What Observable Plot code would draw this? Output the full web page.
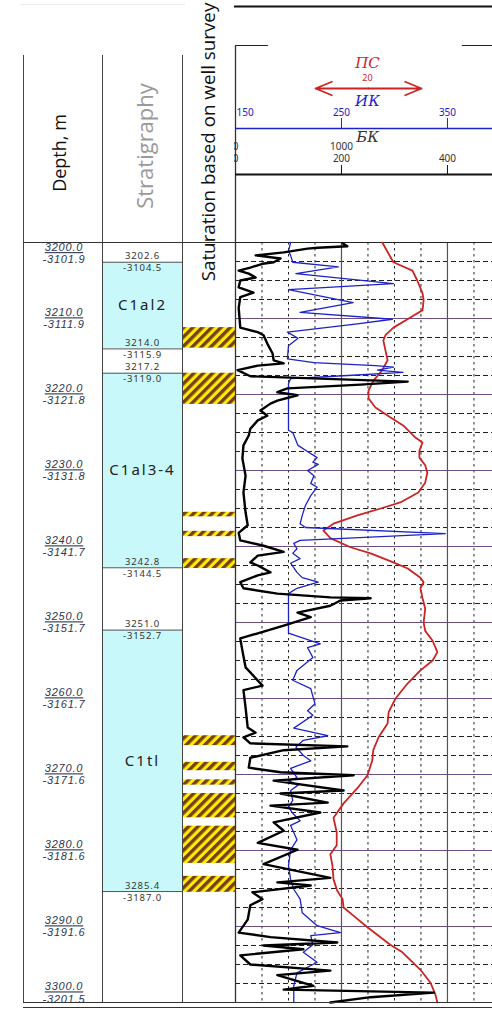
<!DOCTYPE html>
<html><head><meta charset="utf-8">
<script src="https://cdn.jsdelivr.net/npm/d3@7"></script>
<script src="https://cdn.jsdelivr.net/npm/@observablehq/plot@0.6"></script>
<style>
body{margin:0;background:#fff;}
#c{position:relative;width:492px;height:1009px;overflow:hidden;background:#fff;font-family:"Liberation Sans",Arial,sans-serif;}
.vl{position:absolute;width:1px;background:#444;}
.hl{position:absolute;height:1px;background:#333;}
.rot{position:absolute;transform:translate(-50%,-50%) rotate(-90deg);white-space:nowrap;font-family:"Open Sans",sans-serif;line-height:1;}
</style></head><body><div id="c"></div><script>
// ---------- data ----------
const depthTicks = [3200,3210,3220,3230,3240,3250,3260,3270,3280,3290,3300];
const absDepths = ["-3101.9","-3111.9","-3121.8","-3131.8","-3141.7","-3151.7","-3161.7","-3171.6","-3181.6","-3191.6","-3201.5"];

const stratNames = ["C1al2","C1al3-4","C1tl"];
const stratTop = [3202.6,3217.2,3251.0];
const stratBottom = [3214.0,3242.8,3285.4];
const boundaryMD = [3202.6,3214.0,3217.2,3242.8,3251.0,3285.4];
const boundaryAbs = ["-3104.5","-3115.9","-3119.0","-3144.5","-3152.7","-3187.0"];

const satTop = [3211.2,3217.2,3235.5,3238.0,3241.6,3264.9,3268.4,3270.7,3272.5,3276.8,3283.4];
const satBottom = [3213.9,3221.3,3236.1,3238.7,3242.9,3266.2,3269.5,3271.4,3275.7,3281.7,3285.5];

const ikTicks = [150,250,350];
const bkTicksTop = ["0","1000"];
const bkTicksBottom = [0,200,400];

const redDepth = [3200.0,3202.6,3203.7,3205.0,3206.7,3207.6,3208.9,3209.7,3211.2,3212.2,3212.9,3214.2,3215.5,3216.8,3218.2,3219.5,3220.5,3221.7,3223.0,3224.1,3225.7,3226.3,3227.4,3228.3,3229.3,3230.3,3231.6,3232.9,3234.2,3235.0,3235.9,3237.0,3237.9,3238.9,3240.1,3240.9,3242.1,3242.9,3244.1,3244.7,3245.5,3246.8,3248.2,3250.0,3251.1,3252.4,3253.9,3255.0,3256.3,3258.0,3260.0,3261.8,3263.3,3265.1,3266.8,3268.2,3270.1,3271.8,3273.8,3275.7,3277.6,3279.3,3280.5,3282.0,3283.8,3285.3,3286.4,3287.5,3288.6,3290.1,3292.4,3293.4,3295.7,3297.4,3298.9,3300.0];
const redPS = [27.7,29.8,33.4,34.3,35.3,35.5,35.3,33.4,29.8,28.3,27.9,28.3,28.7,27.7,26.0,25.1,25.1,26.4,29.2,31.7,34.0,35.3,34.7,34.7,35.8,36.2,35.8,34.5,31.1,27.4,23.0,18.5,16.6,17.9,21.7,25.5,29.8,32.5,34.9,35.5,34.9,35.3,35.8,35.5,35.8,37.2,38.1,37.2,34.9,32.5,30.2,28.9,28.7,27.0,26.0,25.8,24.9,23.0,20.4,18.5,19.1,19.1,17.9,18.3,18.5,19.2,20.2,20.4,22.3,24.9,29.2,31.5,34.9,36.8,37.7,38.1];

const blueDepth = [3200.0,3201.1,3201.7,3202.6,3203.2,3204.1,3205.4,3206.2,3207.9,3209.2,3210.1,3210.7,3211.8,3212.6,3213.6,3215.3,3215.8,3216.2,3216.4,3216.8,3217.1,3217.5,3217.9,3218.6,3224.7,3225.0,3226.7,3227.6,3228.3,3228.9,3229.2,3230.0,3230.7,3231.7,3232.2,3233.3,3234.6,3235.9,3237.0,3237.5,3238.3,3239.2,3239.6,3240.3,3240.9,3241.6,3242.2,3243.4,3244.1,3244.7,3245.5,3246.2,3251.4,3252.8,3253.3,3254.6,3256.3,3257.6,3258.7,3260.7,3261.6,3262.2,3263.9,3264.9,3265.5,3266.4,3267.5,3268.2,3269.2,3270.4,3270.8,3271.4,3272.1,3273.4,3274.3,3275.1,3276.1,3276.7,3278.6,3279.9,3282.0,3283.8,3285.1,3286.4,3288.2,3289.9,3290.8,3291.2,3292.4,3293.4,3294.7,3296.1,3297.8,3300.0];
const blueIK = [202,200,202,204,247,207,299,200,261,211,298,265,199,209,200,199,224,282,299,284,308,256,202,200,200,204,209,219,227,223,228,218,224,221,227,221,216,213,211,216,348,211,205,208,204,211,202,208,213,228,208,200,200,230,218,223,208,204,221,225,218,223,205,237,214,207,214,221,202,208,200,209,202,204,200,204,211,202,208,202,200,202,205,211,213,227,249,221,223,214,227,208,205,205];

const blackDepth = [3200.1,3200.5,3200.7,3200.8,3201.3,3201.7,3202.1,3202.6,3202.8,3203.3,3203.7,3204.1,3204.6,3205.0,3205.9,3206.6,3207.2,3208.6,3211.2,3211.8,3212.2,3213.3,3214.6,3215.5,3215.9,3216.2,3216.8,3217.6,3218.3,3218.7,3219.2,3219.7,3220.1,3220.8,3221.2,3222.1,3222.8,3223.4,3224.5,3225.4,3226.7,3228.4,3230.7,3232.9,3235.5,3237.2,3238.2,3239.2,3239.9,3240.7,3241.2,3242.1,3242.5,3243.4,3243.8,3244.7,3245.5,3246.2,3246.7,3246.8,3247.1,3247.8,3248.7,3249.3,3250.4,3252.1,3253.7,3255.9,3258.3,3258.9,3261.2,3263.8,3264.5,3265.1,3265.9,3266.3,3266.8,3267.8,3269.1,3269.7,3270.1,3270.8,3272.1,3272.5,3273.7,3274.1,3275.0,3276.3,3277.4,3279.0,3279.9,3281.8,3283.6,3284.2,3284.6,3285.5,3286.4,3287.2,3289.1,3290.8,3291.4,3292.1,3292.5,3293.0,3293.8,3295.0,3295.8,3296.4,3297.8,3298.3,3298.7,3299.3,3300.0];
const blackBK = [202,211,155,136,91,38,85,72,51,28,6,25,38,9,6,34,9,6,9,42,53,60,70,72,91,42,4,28,325,236,98,79,117,79,66,47,60,42,28,25,15,13,19,15,19,23,6,9,53,91,42,28,42,66,42,9,15,79,179,255,198,179,117,142,91,9,13,19,51,15,19,23,38,15,28,211,91,28,25,85,223,72,204,85,174,66,160,72,91,42,117,53,179,79,142,32,51,28,23,6,66,192,53,128,9,28,179,79,147,91,374,255,179];

// ---------- helpers ----------
const c = document.getElementById("c");
const bkToIk = v => 150 + v * 0.5;   // БК 0..400 shares the ИК 150..350 grid
const psToIk = v => 150 + v * 5;     // ПС: 20 mV per 100 ИК units
const Y = {domain: [3200, 3300], range: [242, 1002], axis: null};
const H = 1009;
function place(el, left, top) { el.style.position = "absolute"; el.style.left = left + "px"; el.style.top = top + "px"; c.appendChild(el); return el; }
function div(cls, css) { const d = document.createElement("div"); d.className = cls; Object.assign(d.style, css); c.appendChild(d); return d; }
function label(txt, x, y, css) { const d = div("rot", css); d.textContent = txt; d.style.left = x + "px"; d.style.top = y + "px"; return d; }
const baseStyle = {background: "transparent", overflow: "visible"};

// ---------- depth track ----------
const depthRows = depthTicks.map((d, i) => ({md: d, abs: absDepths[i]}));
const depthText = d => d.md.toFixed(1) + "\n" + d.abs;
const depthOpts = {y: "md", text: depthText, frameAnchor: "middle", dx: 1, fontSize: 11, fontStyle: "italic", fill: "#2e3552", lineHeight: 1.1, fontFamily: "Liberation Sans, Arial, sans-serif"};
const depthPlot = Plot.plot({
  width: 79, height: H, margin: 0, style: baseStyle,
  x: {domain: [0, 1], range: [0, 79], axis: null}, y: Y,
  marks: [
    Plot.text(depthRows.slice(0, 1), {...depthOpts, lineAnchor: "top"}),
    Plot.text(depthRows.slice(1, -1), {...depthOpts, lineAnchor: "middle"}),
    Plot.text(depthRows.slice(-1), {...depthOpts, lineAnchor: "bottom"})
  ]
});
depthPlot.querySelectorAll("text").forEach(t => {
  t.style.letterSpacing = "0.8px";
  const ts = t.querySelector("tspan");
  if (ts) { ts.setAttribute("text-decoration", "underline"); ts.style.textDecoration = "underline"; }
});
place(depthPlot, 23, 0);

// ---------- stratigraphy ----------
const strat = stratNames.map((n, i) => ({name: n, top: stratTop[i], bottom: stratBottom[i]}));
const bounds = boundaryMD.map((d, i) => ({md: d, abs: boundaryAbs[i]}));
const stratPlot = Plot.plot({
  width: 80, height: H, margin: 0, style: baseStyle,
  x: {domain: [0, 1], range: [0, 80], axis: null}, y: Y,
  marks: [
    Plot.rect(strat, {x1: 0, x2: 1, y1: "top", y2: "bottom", fill: "#c8f8fa"}),
    Plot.ruleY(bounds, {y: "md", stroke: "#555", strokeWidth: 1}),
    Plot.text(bounds, {y: "md", text: d => d.md.toFixed(1), dy: -6, frameAnchor: "middle", fontSize: 9.5, fill: "#333"}),
    Plot.text(bounds, {y: "md", text: "abs", dy: 6, frameAnchor: "middle", fontSize: 9.5, fill: "#333"}),
    Plot.text(strat, {y: d => (d.top + d.bottom) / 2, text: "name", frameAnchor: "middle", fontSize: 15, fill: "#222"})
  ]
});
stratPlot.querySelectorAll("text").forEach(t => { t.style.letterSpacing = /^C1/.test(t.textContent) ? "2px" : "0.9px"; });
place(stratPlot, 102, 0);

// ---------- saturation ----------
const sat = satTop.map((t, i) => ({top: t, bottom: satBottom[i]}));
const satPlot = Plot.plot({
  width: 53, height: H, margin: 0, style: baseStyle,
  x: {domain: [0, 1], range: [0, 53], axis: null}, y: Y,
  marks: [Plot.rect(sat, {x1: 0, x2: 1, y1: "top", y2: "bottom", fill: "url(#hatch)"})]
});
d3.select(satPlot).insert("defs", ":first-child").html(
  '<pattern id="hatch" patternUnits="userSpaceOnUse" width="6.6" height="6.6" patternTransform="rotate(45)">' +
  '<rect width="6.6" height="6.6" fill="#ffef00"/><rect width="3.4" height="6.6" fill="#7a3d12"/></pattern>');
place(satPlot, 182, 0);

// ---------- curves header ----------
const X = {domain: [150, 392.5], range: [1, 258], axis: null};
const blue = "#1c22c8", red = "#cc2424";
const hdr = Plot.plot({
  width: 258, height: 242, margin: 0, style: {background: "transparent", overflow: "hidden"},
  x: X, y: {domain: [0, 242], range: [0, 242], axis: null},
  marks: [
    Plot.ruleY([6], {x1: 148, x2: 392.5, stroke: "#111", strokeWidth: 2}),
    Plot.ruleY([45], {x1: 150, x2: 181, stroke: "#222"}),
    Plot.ruleY([45], {x1: 364, x2: 392.5, stroke: "#222"}),
    Plot.ruleX([150], {y1: 45, y2: 242, stroke: "#333", strokeWidth: 1.3}),
    Plot.text(["ПС"], {x: 274.5, y: 63, text: d => d, fill: red, fontSize: 15, fontStyle: "italic", fontFamily: "DejaVu Serif, serif"}),
    Plot.text(["20"], {x: 274.5, y: 78, text: d => d, fill: red, fontSize: 9}),
    Plot.arrow([0], {x1: 275.5, x2: 225.5, y1: 88, y2: 88, stroke: red, strokeWidth: 1.8, headLength: 15, headAngle: 45}),
    Plot.arrow([0], {x1: 275.5, x2: 325.5, y1: 88, y2: 88, stroke: red, strokeWidth: 1.8, headLength: 15, headAngle: 45}),
    Plot.text(["ИК"], {x: 274.5, y: 101, text: d => d, fill: blue, fontSize: 15, fontStyle: "italic", fontFamily: "DejaVu Serif, serif"}),
    Plot.text(ikTicks.slice(0, 1), {x: d => d, y: 112, text: d => String(d), textAnchor: "start", dx: 1, fill: blue, fontSize: 10}),
    Plot.text(ikTicks.slice(1), {x: d => d, y: 112, text: d => String(d), fill: blue, fontSize: 10}),
    Plot.ruleY([128], {x1: 150, x2: 392.5, stroke: blue, strokeWidth: 1.5}),
    Plot.ruleX(ikTicks.slice(1), {y1: 118, y2: 128, stroke: blue}),
    Plot.text(["БК"], {x: 274.5, y: 137, text: d => d, fill: "#333", fontSize: 15, fontStyle: "italic", fontFamily: "DejaVu Serif, serif"}),
    Plot.text(bkTicksTop, {x: (d, i) => bkToIk(bkTicksBottom[i]), y: 146, text: d => d, fill: "#333", fontSize: 10}),
    Plot.text(bkTicksBottom, {x: d => bkToIk(d), y: 158, text: d => String(d), fill: "#333", fontSize: 10}),
    Plot.ruleY([174], {x1: 150, x2: 392.5, stroke: "#111", strokeWidth: 2.2}),
    Plot.ruleX(bkTicksBottom.slice(1), {x: d => bkToIk(d), y1: 165, y2: 174, stroke: "#111"})
  ]
});
place(hdr, 234, 0);

// ---------- curves track ----------
const minor = d3.range(3202.5, 3300, 2.5).filter(d => d % 10 !== 0);
const major = d3.range(3210, 3300, 10);
const span = {y1: 3200, y2: 3300};
const curves = Plot.plot({
  width: 258, height: H, margin: 0, style: {background: "transparent", overflow: "hidden"},
  x: X, y: Y,
  marks: [
    Plot.ruleX([175, 200, 225, 275, 300, 325, 375], {...span, stroke: "#222", strokeDasharray: "2.5,3.5"}),
    Plot.ruleY(minor, {x1: 150, x2: 392.5, stroke: "#222", strokeDasharray: "5,3"}),
    Plot.ruleY(major, {x1: 150, x2: 392.5, stroke: "#6c4f80", strokeWidth: 1.2}),
    Plot.ruleX([250, 350], {...span, stroke: "#555", strokeWidth: 1.2}),
    Plot.ruleX([150], {...span, stroke: "#333", strokeWidth: 1.3}),
    Plot.ruleY([3200], {x1: 150, x2: 392.5, stroke: "#222"}),
    Plot.line(redDepth, {x: (d, i) => psToIk(redPS[i]), y: d => d, stroke: red, strokeWidth: 1.8}),
    Plot.line(blueDepth, {x: (d, i) => blueIK[i], y: d => d, stroke: blue, strokeWidth: 1.3}),
    Plot.line(blackDepth, {x: (d, i) => bkToIk(blackBK[i]), y: d => d, stroke: "#000", strokeWidth: 2.4})
  ]
});
place(curves, 234, 0);

// ---------- frame lines & header titles ----------
[23, 102, 182].forEach(x => div("vl", {left: x + "px", top: "55px", height: "947px"}));
div("hl", {left: "23px", top: "242px", width: "212px"});
div("hl", {left: "23px", top: "1002px", width: "469px"});
div("hl", {left: "23px", top: "1007px", width: "469px"});
div("hl", {left: "20px", top: "4px", width: "165px", background: "#eee"});
label("Depth, m", 59, 153, {fontSize: "18px", color: "#111"});
label("Stratigraphy", 144, 146, {fontSize: "22px", color: "#9a9a9a"});
label("Saturation based on well survey", 208, 142, {fontSize: "18.8px", color: "#111"});
</script></body></html>
